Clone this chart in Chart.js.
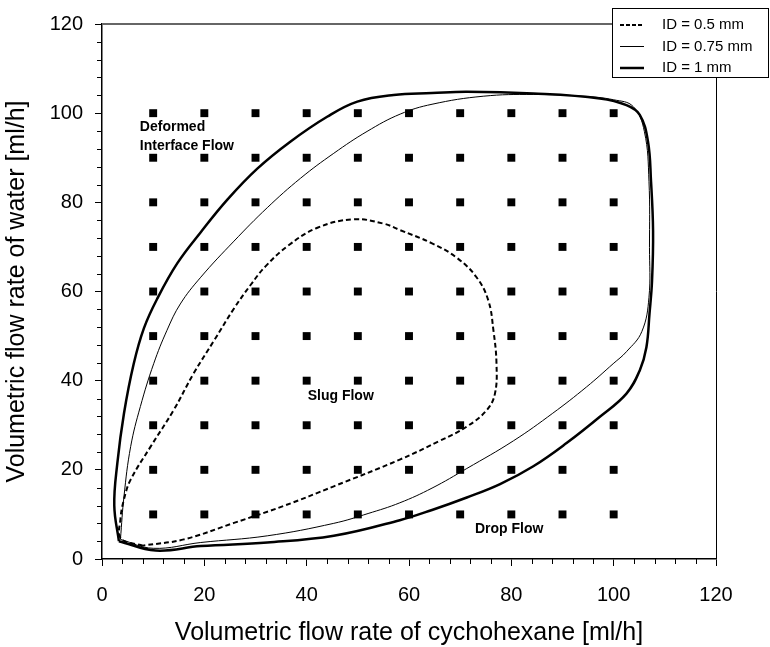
<!DOCTYPE html>
<html>
<head>
<meta charset="utf-8">
<script src="https://cdn.jsdelivr.net/npm/chart.js@4"></script>
<style>
  html, body { margin: 0; padding: 0; background: #fff; }
</style>
</head>
<body>
<canvas id="graph" width="770" height="647"></canvas>
<script>
const FONT = "'Liberation Sans', Arial, sans-serif";

// tested flow rate combinations (ml/h)
const cyclohexaneRates = [10, 20, 30, 40, 50, 60, 70, 80, 90, 100];
const waterRates = [10, 20, 30, 40, 50, 60, 70, 80, 90, 100];

// slug flow boundary, ID = 0.5 mm
const id05X = [8, 3.7, 3.6, 4.3, 5.6, 9.5, 14, 17.9, 21.9, 25.8, 29, 32, 36.4, 42.1, 49.2, 55.1, 58.2, 64.5, 69.3, 73.2, 75.5, 76.5, 77.1, 76.8, 75.2, 71.3, 66, 58.2, 45.3, 35.5, 25.8, 16, 8];
const id05Y = [3.0, 4.6, 8.9, 13.4, 17.8, 25.2, 33.4, 41.6, 49, 56.2, 61.4, 65.7, 70.3, 74.3, 76.2, 75.2, 73.8, 70.8, 67.6, 63.2, 58, 51.3, 43.8, 37.1, 33.4, 29.7, 26.5, 22.3, 16.3, 11.9, 8.1, 4.4, 3.0];

// slug flow boundary, ID = 0.75 mm
const id075X = [3.6, 4.3, 5.6, 7.5, 10.1, 12.7, 15.3, 19.3, 25.8, 32.3, 38.8, 45.3, 51.8, 58.3, 64.5, 74.5, 84.3, 94, 100, 103.8, 106, 106.9, 107, 106.9, 105.5, 102.5, 99.9, 94.7, 88.1, 80.4, 71.3, 64.5, 58.2, 52, 45.3, 32.3, 19.3, 10, 3.6];
const id075Y = [4.4, 14.1, 25.2, 34.2, 43.8, 51.3, 57.2, 63.2, 71.3, 78.8, 85.4, 91, 95.9, 99.8, 102, 103.8, 104.2, 103.8, 103, 101.5, 95.9, 84.7, 69.9, 58.7, 51, 46.5, 43.8, 38.6, 32.7, 26.5, 20.3, 15.9, 12.6, 10.2, 8.0, 5.2, 3.7, 2.4, 4.4];

// slug flow boundary, ID = 1 mm
const id1X = [3.3, 2.4, 3.0, 4.3, 6.2, 8.2, 10.8, 14.7, 19.3, 24.5, 30.3, 36.8, 44, 49.9, 57, 64.5, 71.3, 84.3, 97.3, 102.5, 105.1, 106.7, 107.3, 107.7, 107.5, 107, 106.4, 105.1, 102.5, 97.3, 90.8, 84.3, 77.8, 71.3, 64.5, 58.2, 45.3, 32.3, 19.3, 10.5, 3.3];
const id1Y = [4.0, 12, 21.5, 32.7, 43.8, 51.8, 58.4, 66.3, 73.3, 80.6, 87.5, 93.6, 99.2, 102.6, 104.1, 104.5, 104.8, 104.4, 103.3, 101.8, 99.6, 93.7, 84.7, 73.6, 62.4, 55, 47.5, 42.3, 37.1, 31.9, 26, 20.8, 16.8, 13.8, 11.0, 8.7, 5.2, 3.7, 2.9, 1.9, 4.0];

const regionLabels = [
  { text: 'Deformed', x: 7.4, y: 96.8 },
  { text: 'Interface Flow', x: 7.4, y: 92.7 },
  { text: 'Slug Flow', x: 40.2, y: 36.6 },
  { text: 'Drop Flow', x: 72.9, y: 6.7 }
];

const legendItems = [
  { text: 'ID = 0.5 mm', width: 2, dash: [4, 2] },
  { text: 'ID = 0.75 mm', width: 1, dash: [] },
  { text: 'ID = 1 mm', width: 2.5, dash: [] }
];

function toPoints(xs, ys) {
  return xs.map((x, i) => ({ x: x, y: ys[i] }));
}

const gridPoints = [];
waterRates.forEach(w => cyclohexaneRates.forEach(c => gridPoints.push({ x: c, y: w })));

// frame, minor ticks, region names and legend
const extras = {
  id: 'extras',
  afterDatasetsDraw(chart) {
    const ctx = chart.ctx;
    const xs = chart.scales.x, ys = chart.scales.y;
    ctx.save();
    ctx.fillStyle = '#000';
    ctx.font = 'bold 14px ' + FONT;
    ctx.textBaseline = 'middle';
    ctx.textAlign = 'left';
    regionLabels.forEach(l => {
      ctx.fillText(l.text, xs.getPixelForValue(l.x), ys.getPixelForValue(l.y));
    });
    ctx.restore();
  },
  afterDraw(chart) {
    const ctx = chart.ctx;
    const a = chart.chartArea;
    const xs = chart.scales.x, ys = chart.scales.y;
    ctx.save();
    // minor ticks every 4 ml/h
    ctx.strokeStyle = '#000';
    ctx.lineWidth = 1;
    ctx.beginPath();
    for (let v = 4; v < 120; v += 4) {
      if (v % 20 === 0) continue;
      const px = Math.round(xs.getPixelForValue(v)) + 0.5;
      ctx.moveTo(px, a.bottom);
      ctx.lineTo(px, a.bottom + 5);
      const py = Math.round(ys.getPixelForValue(v)) + 0.5;
      ctx.moveTo(a.left, py);
      ctx.lineTo(a.left - 5, py);
    }
    ctx.stroke();
    // top and right frame
    ctx.strokeStyle = '#666';
    ctx.lineWidth = 2;
    ctx.beginPath();
    ctx.moveTo(a.left, a.top);
    ctx.lineTo(a.right, a.top);
    ctx.stroke();
    ctx.strokeStyle = '#000';
    ctx.lineWidth = 1;
    ctx.beginPath();
    ctx.moveTo(a.right + 0.5, a.top);
    ctx.lineTo(a.right + 0.5, a.bottom);
    ctx.stroke();
    // legend box
    const bx = 612.5, by = 8.5, bw = 156, bh = 69;
    ctx.fillStyle = '#fff';
    ctx.fillRect(bx, by, bw, bh);
    ctx.strokeRect(bx, by, bw, bh);
    ctx.font = '15px ' + FONT;
    ctx.fillStyle = '#000';
    ctx.textBaseline = 'middle';
    legendItems.forEach((it, i) => {
      const y = 25 + i * 21.5;
      ctx.lineWidth = it.width;
      ctx.setLineDash(it.dash);
      ctx.beginPath();
      ctx.moveTo(620, y);
      ctx.lineTo(644, y);
      ctx.stroke();
      ctx.setLineDash([]);
      ctx.fillText(it.text, 662, y);
    });
    ctx.restore();
  }
};

const tickFont = { family: FONT, size: 20 };
const titleFont = { family: FONT, size: 25 };

new Chart(document.getElementById('graph'), {
  type: 'scatter',
  data: {
    datasets: [
      {
        label: 'ID = 0.5 mm',
        data: toPoints(id05X, id05Y),
        showLine: true,
        borderColor: '#000',
        borderWidth: 2,
        borderDash: [5, 3],
        pointRadius: 0,
        tension: 0.4
      },
      {
        label: 'ID = 0.75 mm',
        data: toPoints(id075X, id075Y),
        showLine: true,
        borderColor: '#000',
        borderWidth: 1,
        pointRadius: 0,
        tension: 0.4
      },
      {
        label: 'ID = 1 mm',
        data: toPoints(id1X, id1Y),
        showLine: true,
        borderColor: '#000',
        borderWidth: 2.5,
        pointRadius: 0,
        tension: 0.4
      },
      {
        label: 'tested',
        data: gridPoints,
        pointStyle: 'rect',
        pointRadius: 5.6,
        borderWidth: 0,
        backgroundColor: '#000'
      }
    ]
  },
  options: {
    responsive: false,
    devicePixelRatio: 1,
    animation: false,
    layout: { padding: { top: 23, right: 54, left: 0, bottom: 0 } },
    plugins: { legend: { display: false }, tooltip: { enabled: false } },
    scales: {
      x: {
        type: 'linear',
        min: 0,
        max: 120,
        afterFit: s => { s.height = 88; },
        ticks: { stepSize: 20, color: '#000', font: tickFont, padding: 17 },
        grid: { drawOnChartArea: false, drawTicks: true, tickLength: 7, color: '#000' },
        border: { display: true, color: '#000', width: 1.5 },
        title: { display: true, text: 'Volumetric flow rate of cychohexane [ml/h]', color: '#000', font: titleFont, padding: { top: 0, bottom: -1 } }
      },
      y: {
        type: 'linear',
        min: 0,
        max: 120,
        afterFit: s => { s.width = 102; },
        ticks: { stepSize: 20, color: '#000', font: tickFont, padding: 12 },
        grid: { drawOnChartArea: false, drawTicks: true, tickLength: 7, color: '#000' },
        border: { display: true, color: '#000', width: 1.5 },
        title: { display: true, text: 'Volumetric flow rate of water [ml/h]', color: '#000', font: titleFont, padding: { top: 2, bottom: 0 } }
      }
    }
  },
  plugins: [extras]
});
</script>
</body>
</html>
